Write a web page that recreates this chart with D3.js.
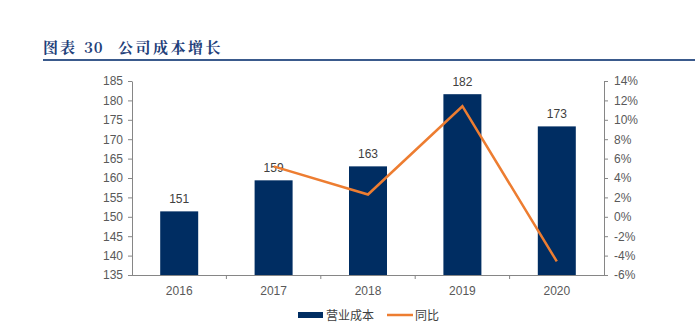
<!DOCTYPE html>
<html><head><meta charset="utf-8">
<script src="https://cdn.jsdelivr.net/npm/d3@7"></script>
<style>body{margin:0;background:#fff;}svg{display:block;}</style>
</head><body>
<svg id="c" width="697" height="327"></svg>
<script>
const years = ["2016","2017","2018","2019","2020"];
const cost = [151.4, 159.4, 163.0, 181.6, 173.3];
const costLabels = ["151","159","163","182","173"];
const yoyYears = ["2017","2018","2019","2020"];
const yoy = [5.2, 2.3, 11.4, -4.6];
const leftTicks = [135,140,145,150,155,160,165,170,175,180,185];
const rightTicks = [-6,-4,-2,0,2,4,6,8,10,12,14];

const svg = d3.select("#c");
const L = 132, R = 604, T = 81, B = 275;
const font = "Arial, 'Liberation Sans', sans-serif";

// title
const tFont = "'Noto Serif CJK SC','Noto Sans CJK SC',serif";
svg.append("text").attr("x",43).attr("y",53)
  .attr("font-family",tFont).attr("font-weight","bold").attr("font-size",15)
  .attr("letter-spacing",2).attr("fill","#1f3f7a").text("图表");
svg.append("text").attr("x",84).attr("y",53)
  .attr("font-family",tFont).attr("font-weight","bold").attr("font-size",15)
  .attr("letter-spacing",1).attr("fill","#1f3f7a").text("30");
svg.append("text").attr("x",118).attr("y",53)
  .attr("font-family",tFont).attr("font-weight","bold").attr("font-size",15)
  .attr("letter-spacing",2.5).attr("fill","#1f3f7a").text("公司成本增长");
svg.append("rect").attr("x",43).attr("y",59).attr("width",652).attr("height",2).attr("fill","#3a5a8c");

const xo = d3.scaleBand().domain(years).range([L,R]);
const yL = d3.scaleLinear().domain([135,185]).range([B,T]);
const yR = d3.scaleLinear().domain([-6,14]).range([B,T]);

// bars
svg.append("g").selectAll("rect").data(years).join("rect")
  .attr("x",(d)=>xo(d)+xo.bandwidth()/2-19).attr("width",38)
  .attr("y",(d,i)=>yL(cost[i])).attr("height",(d,i)=>B-yL(cost[i]))
  .attr("fill","#002d62");

// bar labels
svg.append("g").selectAll("text").data(years).join("text")
  .attr("x",(d)=>xo(d)+xo.bandwidth()/2).attr("y",(d,i)=>yL(cost[i])-8)
  .attr("text-anchor","middle").attr("font-family",font).attr("font-size",12).attr("fill","#404040")
  .text((d,i)=>costLabels[i]);

// line
const line = d3.line().x((d,i)=>xo(yoyYears[i])+xo.bandwidth()/2).y((d)=>yR(d));
svg.append("path").datum(yoy).attr("d",line).attr("fill","none")
  .attr("stroke","#ed7d31").attr("stroke-width",2.5).attr("stroke-linejoin","miter");

// axes
const axColor = "#868686";
const gl = svg.append("g").attr("transform",`translate(${L},0)`)
  .call(d3.axisLeft(yL).tickValues(leftTicks).tickSize(4).tickPadding(5).tickSizeOuter(0));
const gr = svg.append("g").attr("transform",`translate(${R},0)`)
  .call(d3.axisRight(yR).tickValues(rightTicks).tickSize(4).tickPadding(6).tickSizeOuter(0).tickFormat(d=>d+"%"));
const gx = svg.append("g").attr("transform",`translate(0,${B})`)
  .call(d3.axisBottom(xo).tickSize(0).tickPadding(11).tickSizeOuter(0));
// category separator ticks
svg.append("g").selectAll("line").data(years.slice(1)).join("line")
  .attr("x1",d=>xo(d)).attr("x2",d=>xo(d)).attr("y1",B).attr("y2",B+4)
  .attr("stroke",axColor);
[gl,gr,gx].forEach(g=>{
  g.selectAll("path,line").attr("stroke",axColor);
  g.selectAll("text").attr("font-family",font).attr("font-size",12).attr("fill","#595959");
});
gx.select("path").attr("d",`M${L-4},0.5H${R+2}`);

// legend
svg.append("rect").attr("x",298).attr("y",312).attr("width",25).attr("height",6).attr("fill","#002d62");
svg.append("text").attr("x",326).attr("y",320).attr("font-family","'Noto Sans CJK SC',sans-serif")
  .attr("font-size",12).attr("fill","#404040").text("营业成本");
svg.append("line").attr("x1",387).attr("x2",413).attr("y1",315).attr("y2",315)
  .attr("stroke","#ed7d31").attr("stroke-width",2.5);
svg.append("text").attr("x",415).attr("y",320).attr("font-family","'Noto Sans CJK SC',sans-serif")
  .attr("font-size",12).attr("fill","#404040").text("同比");
</script>
</body></html>
